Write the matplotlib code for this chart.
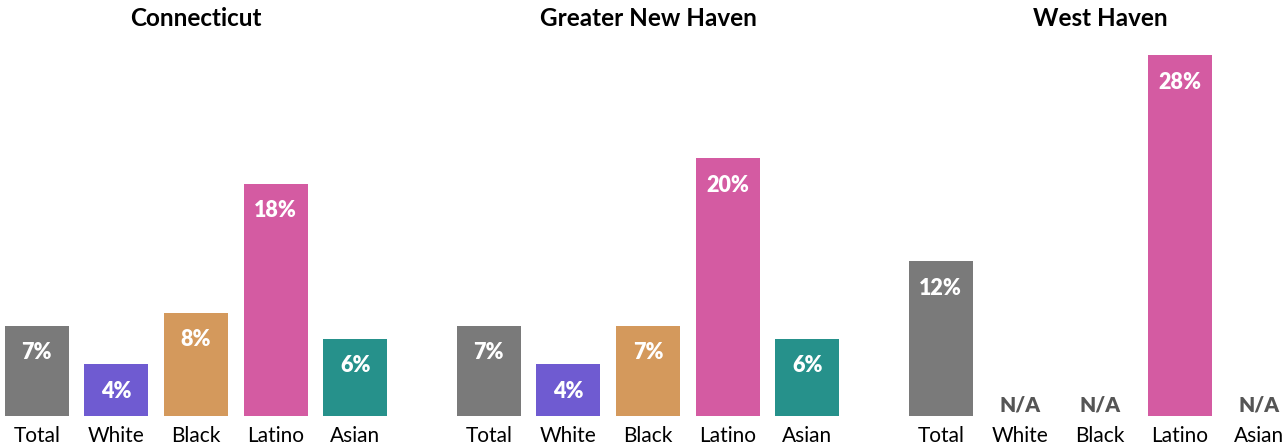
import matplotlib
matplotlib.use("Agg")
import matplotlib.pyplot as plt

plt.rcParams['font.family'] = ['Lato', 'DejaVu Sans']

regions = ["Connecticut", "Greater New Haven", "West Haven"]
groups = ["Total", "White", "Black", "Latino", "Asian"]
colors = ["#7a7a7a", "#6f5bd1", "#d4995c", "#d45ba2", "#26918b"]

# None = N/A
connecticut = [7, 4, 8, 18, 6]
new_haven = [7, 4, 7, 20, 6]
west_haven = [12, None, None, 28, None]
values = [connecticut, new_haven, west_haven]

W, H = 1285, 448
fig = plt.figure(figsize=(W / 100, H / 100), dpi=100)

lefts = [5, 457, 909]
for left, name, vals in zip(lefts, regions, values):
    ax = fig.add_axes([left / W, 32 / H, 382 / W, 361 / H])
    for i, (g, v, c) in enumerate(zip(groups, vals, colors)):
        if v is None:
            ax.text(i, 0.1, "N/A", ha="center", va="bottom", color="#555555",
                    fontsize=15, fontweight="heavy")
            continue
        ax.bar(i, v, width=0.805, color=c)
        ax.annotate(f"{v}%", (i, v), xytext=(0, -27), textcoords="offset pixels",
                    ha="center", va="center", color="white",
                    fontsize=15.5, fontweight="heavy")
    ax.set_xlim(-0.4, 4.4)
    ax.set_ylim(0, 28)
    ax.set_xticks(range(len(groups)))
    ax.set_xticklabels(groups, fontsize=15)
    ax.tick_params(axis="x", length=0, pad=7)
    ax.set_yticks([])
    for s in ax.spines.values():
        s.set_visible(False)
    fig.text((left + 191) / W, 1 - 19 / H, name, ha="center", va="center",
             fontsize=17.5, fontweight="bold")

fig.savefig("out.png", dpi=100)
